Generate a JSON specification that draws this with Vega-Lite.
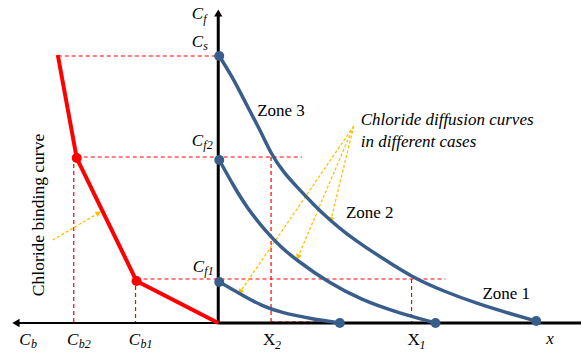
{
  "$schema": "https://vega.github.io/schema/vega-lite/v6.json",
  "autosize": {"type": "fit", "contains": "padding"},
  "width": 583,
  "height": 354,
  "padding": 0,
  "background": "white",
  "config": {"view": {"stroke": null}, "text": {"font": "Liberation Serif"}},
  "datasets": {
    "blue": [
      {"curve": 3, "u": 1, "v": 267}, {"curve": 3, "u": 16, "v": 243}, {"curve": 3, "u": 29, "v": 217}, {"curve": 3, "u": 43, "v": 191}, {"curve": 3, "u": 53, "v": 169}, {"curve": 3, "u": 66, "v": 150}, {"curve": 3, "u": 79, "v": 136}, {"curve": 3, "u": 96, "v": 118}, {"curve": 3, "u": 113, "v": 102}, {"curve": 3, "u": 129, "v": 89}, {"curve": 3, "u": 146, "v": 77}, {"curve": 3, "u": 163, "v": 66}, {"curve": 3, "u": 194, "v": 46}, {"curve": 3, "u": 228, "v": 31}, {"curve": 3, "u": 261, "v": 19}, {"curve": 3, "u": 294, "v": 9}, {"curve": 3, "u": 319, "v": 2},
      {"curve": 2, "u": 1, "v": 163}, {"curve": 2, "u": 16, "v": 136}, {"curve": 2, "u": 29, "v": 115}, {"curve": 2, "u": 49, "v": 90}, {"curve": 2, "u": 63, "v": 76}, {"curve": 2, "u": 77, "v": 64}, {"curve": 2, "u": 111, "v": 40}, {"curve": 2, "u": 144, "v": 23}, {"curve": 2, "u": 178, "v": 11}, {"curve": 2, "u": 218, "v": 0},
      {"curve": 1, "u": 1, "v": 41}, {"curve": 1, "u": 12, "v": 35}, {"curve": 1, "u": 24, "v": 28}, {"curve": 1, "u": 44, "v": 17}, {"curve": 1, "u": 61, "v": 11}, {"curve": 1, "u": 94, "v": 4}, {"curve": 1, "u": 122, "v": 0}
    ],
    "blueDots": [
      {"u": 1, "v": 267}, {"u": 1, "v": 163}, {"u": 1, "v": 41}, {"u": 122, "v": 0}, {"u": 218, "v": 0}, {"u": 319, "v": 2}
    ],
    "red": [
      {"u": -161, "v": 268}, {"u": -142, "v": 165}, {"u": -82, "v": 42}, {"u": 0, "v": 0}
    ],
    "redDots": [
      {"u": -142, "v": 165}, {"u": -82, "v": 42}
    ],
    "guides": [
      {"u": -161, "v": 267, "u2": 0, "v2": 267},
      {"u": -142, "v": 166, "u2": 84, "v2": 166},
      {"u": -82, "v": 44, "u2": 228, "v2": 44},
      {"u": -145, "v": 166, "u2": -145, "v2": 0},
      {"u": -83, "v": 44, "u2": -83, "v2": 0},
      {"u": 53, "v": 166, "u2": 53, "v2": 0},
      {"u": 194, "v": 44, "u2": 194, "v2": 0},
      {"u": 53, "v": 1, "u2": 100, "v2": 1}
    ],
    "axes": [
      {"part": "right", "u": 0, "v": 0, "u2": 364, "v2": 0},
      {"part": "up", "u": 0, "v": 0, "u2": 0, "v2": 310},
      {"part": "left", "u": 0, "v": 0, "u2": -203, "v2": 0}
    ],
    "callouts": [
      {"u": 136, "v": 197, "u2": 113, "v2": 103},
      {"u": 136, "v": 197, "u2": 80, "v2": 66},
      {"u": 136, "v": 197, "u2": 22, "v2": 31},
      {"u": -166, "v": 83, "u2": -120, "v2": 110}
    ],
    "labels": [
      {"role": "C", "t": "C", "u": -21, "v": 309},
      {"role": "sub", "t": "f", "u": -15, "v": 304},
      {"role": "C", "t": "C", "u": -21, "v": 281},
      {"role": "sub", "t": "s", "u": -15, "v": 277},
      {"role": "C", "t": "C", "u": -21, "v": 182},
      {"role": "sub", "t": "f2", "u": -15, "v": 178},
      {"role": "C", "t": "C", "u": -20, "v": 56},
      {"role": "sub", "t": "f1", "u": -14, "v": 52},
      {"role": "C", "t": "C", "u": -194, "v": -17},
      {"role": "sub", "t": "b", "u": -188, "v": -21},
      {"role": "C", "t": "C", "u": -146, "v": -17},
      {"role": "sub", "t": "b2", "u": -140, "v": -21},
      {"role": "C", "t": "C", "u": -84, "v": -17},
      {"role": "sub", "t": "b1", "u": -78, "v": -21},
      {"role": "X", "t": "X", "u": 51, "v": -17},
      {"role": "sub", "t": "2", "u": 57, "v": -22},
      {"role": "X", "t": "X", "u": 196, "v": -17},
      {"role": "sub", "t": "1", "u": 202, "v": -22},
      {"role": "C", "t": "x", "u": 333, "v": -16},
      {"role": "zone", "t": "Zone 3", "u": 63, "v": 212},
      {"role": "zone", "t": "Zone 2", "u": 152, "v": 110},
      {"role": "zone", "t": "Zone 1", "u": 289, "v": 29},
      {"role": "note", "t": "Chloride diffusion curves", "u": 143, "v": 198},
      {"role": "note", "t": "in different cases", "u": 143, "v": 176},
      {"role": "vert", "t": "Chloride binding curve", "u": -180, "v": 108}
    ]
  },
  "encoding": {
    "x": {"field": "u", "type": "quantitative", "scale": {"domain": [-219, 364], "nice": false, "zero": false}, "axis": null},
    "y": {"field": "v", "type": "quantitative", "scale": {"domain": [-31, 323], "nice": false, "zero": false}, "axis": null}
  },
  "layer": [
    {
      "data": {"name": "guides"},
      "mark": {"type": "rule", "color": "#FF0000", "strokeWidth": 1.2, "strokeDash": [4, 3]},
      "encoding": {"x2": {"field": "u2"}, "y2": {"field": "v2"}}
    },
    {
      "data": {"name": "callouts"},
      "mark": {"type": "rule", "color": "#FFC000", "strokeWidth": 1.3, "strokeDash": [3, 2]},
      "encoding": {"x2": {"field": "u2"}, "y2": {"field": "v2"}}
    },
    {
      "data": {"name": "callouts"},
      "transform": [{"calculate": "atan2(datum.u2 - datum.u, datum.v2 - datum.v) * 180 / PI", "as": "angle"}],
      "mark": {"type": "point", "shape": "triangle-up", "filled": true, "color": "#FFC000", "size": 40, "opacity": 1},
      "encoding": {
        "x": {"field": "u2", "type": "quantitative"},
        "y": {"field": "v2", "type": "quantitative"},
        "angle": {"field": "angle", "type": "quantitative", "scale": null}
      }
    },
    {
      "data": {"name": "axes"},
      "mark": {"type": "rule", "color": "black"},
      "encoding": {
        "x2": {"field": "u2"}, "y2": {"field": "v2"},
        "strokeWidth": {"condition": {"test": "datum.part === 'left'", "value": 2}, "value": 3}
      }
    },
    {
      "data": {"name": "axes"},
      "transform": [
        {"filter": "datum.part !== 'right'"},
        {"calculate": "atan2(datum.u2 - datum.u, datum.v2 - datum.v) * 180 / PI", "as": "angle"}
      ],
      "mark": {"type": "point", "shape": "triangle-up", "filled": true, "color": "black", "size": 70, "opacity": 1},
      "encoding": {
        "x": {"field": "u2", "type": "quantitative"},
        "y": {"field": "v2", "type": "quantitative"},
        "angle": {"field": "angle", "type": "quantitative", "scale": null}
      }
    },
    {
      "data": {"name": "red"},
      "mark": {"type": "line", "color": "#FF0000", "strokeWidth": 4, "strokeJoin": "miter"},
      "encoding": {}
    },
    {
      "data": {"name": "redDots"},
      "mark": {"type": "point", "filled": true, "color": "#FF0000", "size": 100, "opacity": 1},
      "encoding": {}
    },
    {
      "data": {"name": "blue"},
      "mark": {"type": "line", "color": "#3A5E8C", "strokeWidth": 3.5, "interpolate": "basis"},
      "encoding": {"detail": {"field": "curve", "type": "nominal"}}
    },
    {
      "data": {"name": "blueDots"},
      "mark": {"type": "point", "filled": true, "color": "#3A5E8C", "size": 100, "opacity": 1},
      "encoding": {}
    },
    {
      "data": {"name": "labels"},
      "transform": [{"filter": "datum.role === 'C'"}],
      "mark": {"type": "text", "font": "Liberation Serif, Times New Roman, DejaVu Serif, serif", "fontStyle": "italic", "fontSize": 17, "align": "center", "baseline": "middle", "color": "black"},
      "encoding": {"text": {"field": "t"}}
    },
    {
      "data": {"name": "labels"},
      "transform": [{"filter": "datum.role === 'X'"}],
      "mark": {"type": "text", "font": "Liberation Serif, Times New Roman, DejaVu Serif, serif", "fontSize": 17, "align": "center", "baseline": "middle", "color": "black"},
      "encoding": {"text": {"field": "t"}}
    },
    {
      "data": {"name": "labels"},
      "transform": [{"filter": "datum.role === 'sub'"}],
      "mark": {"type": "text", "font": "Liberation Serif, Times New Roman, DejaVu Serif, serif", "fontStyle": "italic", "fontSize": 12, "align": "left", "baseline": "middle", "color": "black"},
      "encoding": {"text": {"field": "t"}}
    },
    {
      "data": {"name": "labels"},
      "transform": [{"filter": "datum.role === 'zone'"}],
      "mark": {"type": "text", "font": "Liberation Serif, Times New Roman, DejaVu Serif, serif", "fontSize": 17, "align": "center", "baseline": "middle", "color": "black"},
      "encoding": {"text": {"field": "t"}}
    },
    {
      "data": {"name": "labels"},
      "transform": [{"filter": "datum.role === 'note'"}],
      "mark": {"type": "text", "font": "Liberation Serif, Times New Roman, DejaVu Serif, serif", "fontStyle": "italic", "fontSize": 17, "align": "left", "baseline": "alphabetic", "color": "black"},
      "encoding": {"text": {"field": "t"}}
    },
    {
      "data": {"name": "labels"},
      "transform": [{"filter": "datum.role === 'vert'"}],
      "mark": {"type": "text", "font": "Liberation Serif, Times New Roman, DejaVu Serif, serif", "fontSize": 17.5, "align": "center", "baseline": "middle", "angle": 270, "color": "black"},
      "encoding": {"text": {"field": "t"}}
    }
  ]
}
